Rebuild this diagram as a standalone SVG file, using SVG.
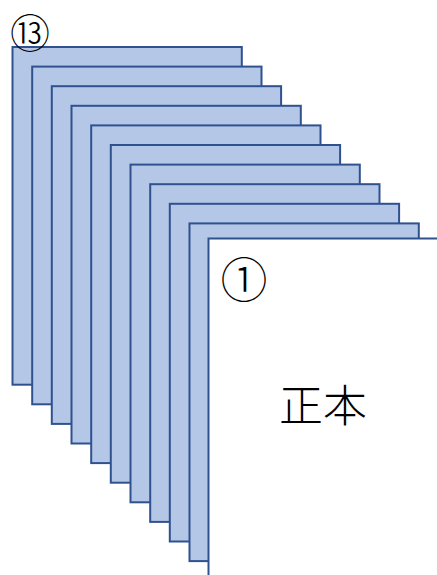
<svg xmlns="http://www.w3.org/2000/svg" width="437" height="575" viewBox="0 0 437 575">
<style>
.b{fill:#B4C7E7;stroke:#2F528F;stroke-width:2}
.w{fill:#FFFFFF;stroke:#2F528F;stroke-width:2}
.t{font-family:"Noto Sans CJK JP","Noto Sans CJK SC",sans-serif;font-weight:300;fill:#000}
</style>
<g id="sheets">
<rect id="s13" class="b" x="12.5" y="47" width="229.3" height="337.7"/>
<rect id="s12" class="b" x="32.2" y="66.6" width="229.3" height="337.7"/>
<rect id="s11" class="b" x="51.8" y="86.2" width="229.3" height="337.7"/>
<rect id="s10" class="b" x="71.5" y="105.8" width="229.3" height="337.7"/>
<rect id="s9" class="b" x="91.2" y="125.4" width="229.3" height="337.7"/>
<rect id="s8" class="b" x="110.8" y="145" width="229.3" height="337.7"/>
<rect id="s7" class="b" x="130.5" y="164.6" width="229.3" height="337.7"/>
<rect id="s6" class="b" x="150.2" y="184.2" width="229.3" height="337.7"/>
<rect id="s5" class="b" x="169.8" y="203.8" width="229.3" height="337.7"/>
<rect id="s4" class="b" x="189.5" y="223.4" width="229.3" height="337.7"/>
<rect id="s1" class="w" x="208.5" y="238.5" width="240" height="350"/>
</g>
<g id="labels">
<text class="t" x="30" y="47.5" font-size="40" text-anchor="middle">⑬</text>
<text class="t" x="244" y="297" font-size="47" text-anchor="middle">①</text>
<text class="t" x="323" y="422" font-size="44" text-anchor="middle">正本</text>
</g>
</svg>
